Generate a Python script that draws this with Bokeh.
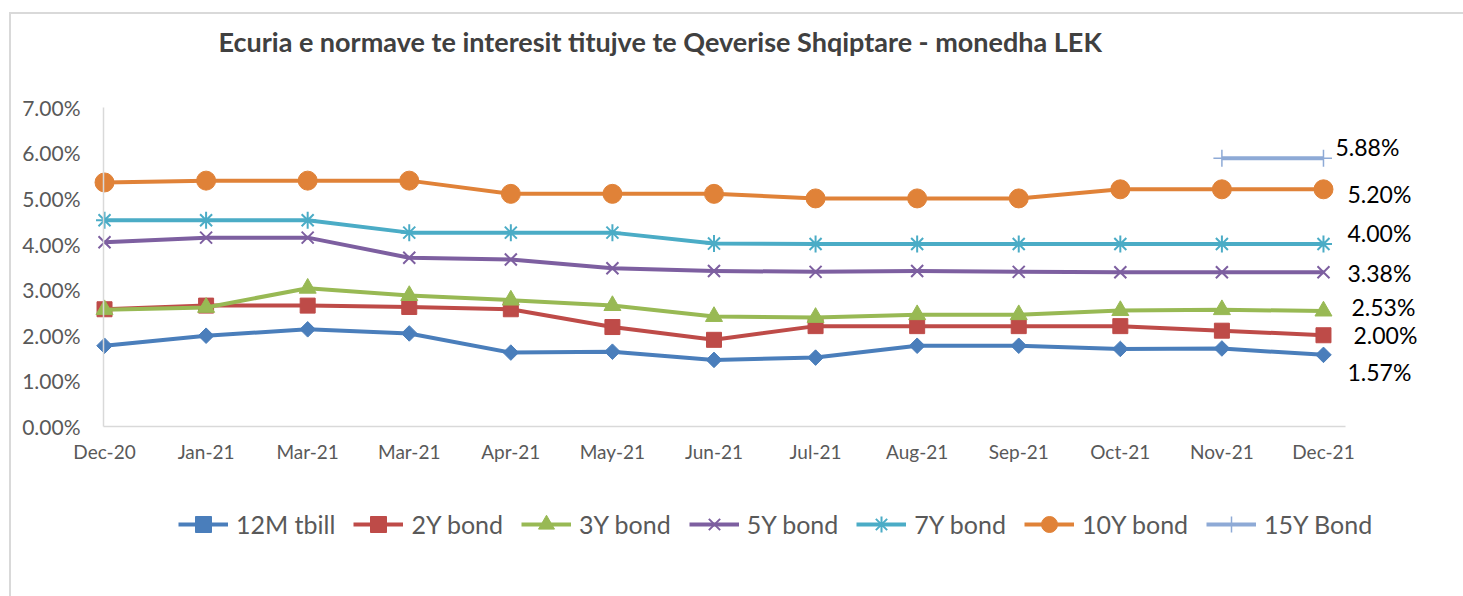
import numpy as np
from bokeh.plotting import figure
from bokeh.core.properties import value
from bokeh.models import (Range1d, FixedTicker, Legend, LegendItem,
                          LabelSet, ColumnDataSource, Title)
from bokeh.embed import file_html
from bokeh.resources import INLINE

nan = float("nan")

# ---- data ----
months = ["Dec-20", "Jan-21", "Mar-21", "Mar-21", "Apr-21", "May-21", "Jun-21",
          "Jul-21", "Aug-21", "Sep-21", "Oct-21", "Nov-21", "Dec-21"]
tbill_12m = [1.77, 1.99, 2.13, 2.04, 1.62, 1.64, 1.46, 1.51, 1.77, 1.77, 1.70, 1.71, 1.57]
bond_2y = [2.57, 2.65, 2.65, 2.62, 2.57, 2.18, 1.90, 2.20, 2.20, 2.20, 2.20, 2.10, 2.00]
bond_3y = [2.56, 2.61, 3.03, 2.87, 2.77, 2.65, 2.41, 2.39, 2.45, 2.45, 2.54, 2.56, 2.53]
bond_5y = [4.04, 4.14, 4.14, 3.70, 3.66, 3.47, 3.41, 3.39, 3.41, 3.39, 3.38, 3.38, 3.38]
bond_7y = [4.52, 4.52, 4.52, 4.25, 4.25, 4.25, 4.01, 4.00, 4.00, 4.00, 4.00, 4.00, 4.00]
bond_10y = [5.35, 5.39, 5.39, 5.39, 5.10, 5.10, 5.10, 5.00, 5.00, 5.00, 5.20, 5.20, 5.20]
bond_15y = [nan, nan, nan, nan, nan, nan, nan, nan, nan, nan, nan, 5.88, 5.88]
series_names = ["12M tbill", "2Y bond", "3Y bond", "5Y bond", "7Y bond", "10Y bond", "15Y Bond"]
y_ticks = [0, 1, 2, 3, 4, 5, 6, 7]
title_text = "Ecuria e normave te interesit titujve te Qeverise Shqiptare - monedha LEK"

# ---- styles ----
FONT = "Lato"
colors = ["#4a7ebb", "#be4b48", "#98b954", "#7d5fa0", "#4bacc6", "#e08238", "#8eaad6"]
markers = [("square", 11, np.pi / 4, 1), ("square", 15, 0, 1), ("triangle", 17, 0, 1),
           ("x", 17, 0, 2), ("asterisk", 17, 0, 2), ("circle", 19, 0, 1), ("cross", 17, 0, 1.5)]
# label offsets (px) for end-of-line data labels
label_dx = [24, 30, 28, 24, 24, 24, 12]
label_dy = [-17, 0, 4, -1, 11, -5, 11]

x = list(range(len(months)))
all_series = [tbill_12m, bond_2y, bond_3y, bond_5y, bond_7y, bond_10y, bond_15y]

X0 = -0.01          # where the value axis sits
p = figure(width=1454, height=584, output_backend="svg", toolbar_location=None,
           x_range=Range1d(-0.896, 13.152), y_range=Range1d(-3.070, 7.980),
           min_border_left=4, min_border_right=23, min_border_top=50, min_border_bottom=30)
p.margin = (12, 0, 0, 9)
p.border_fill_color = None
p.background_fill_color = None
p.styles = {"box-shadow": "inset 2px 2px 0 0 #d9d9d9"}
p.outline_line_color = None
p.xgrid.visible = False
p.ygrid.visible = False

title = Title(text=title_text, align="left", offset=205,
              text_font=FONT, text_font_size="27px", text_font_style="bold",
              text_color="#404040")
p.add_layout(title, "above")

for ax in (p.xaxis[0], p.yaxis[0]):
    ax.axis_line_color = "#d9d9d9"
    ax.axis_line_width = 1.5
    ax.major_tick_line_color = None
    ax.minor_tick_line_color = None
    ax.major_tick_in = 0
    ax.major_tick_out = 0
    ax.major_label_text_font = FONT
    ax.major_label_text_color = "#595959"

p.xaxis.ticker = FixedTicker(ticks=x)
p.xaxis.bounds = (X0, 12.217)
p.xaxis.fixed_location = 0
p.xaxis.major_label_overrides = {i: m for i, m in enumerate(months)}
p.xaxis.major_label_text_font_size = "19px"
p.xaxis.major_label_standoff = 14

p.yaxis.ticker = FixedTicker(ticks=y_ticks)
p.yaxis.bounds = (0, 7)
p.yaxis.fixed_location = X0
p.yaxis.major_label_overrides = {t: "" for t in y_ticks}
p.yaxis.major_label_standoff = 0

# value-axis tick labels
ytl_src = ColumnDataSource(dict(x=[X0] * len(y_ticks), y=y_ticks,
                                text=["%.2f%%" % t for t in y_ticks]))
p.add_layout(LabelSet(x="x", y="y", text="text", source=ytl_src, x_offset=-23,
                      text_font=value(FONT), text_font_size="21px", text_color="#595959",
                      text_align="right", text_baseline="middle"))

items = []
for name, vals, col, (mk, sz, ang, lw) in zip(series_names, all_series, colors, markers):
    src = ColumnDataSource(dict(x=x, y=vals))
    lr = p.line("x", "y", source=src, line_color=col, line_width=4, line_join="round")
    sr = p.scatter("x", "y", source=src, marker=mk, size=sz, angle=ang,
                   fill_color=col, line_color=col, line_width=lw)
    items.append(LegendItem(label=name, renderers=[lr, sr]))

last_vals = [s[-1] for s in all_series]
lab_src = ColumnDataSource(dict(x=[x[-1]] * len(last_vals), y=last_vals,
                                text=["%.2f%%" % v for v in last_vals],
                                dx=label_dx, dy=label_dy))
labels = LabelSet(x="x", y="y", text="text", x_offset="dx", y_offset="dy", source=lab_src,
                  text_font=value(FONT), text_font_size="23px", text_color="#000000",
                  text_align="left", text_baseline="middle")
p.add_layout(labels)

legend = Legend(items=items, orientation="horizontal", location=(165, 22),
                glyph_width=50, glyph_height=40, label_standoff=8, spacing=18,
                padding=10, label_text_font=FONT, label_text_font_size="25px",
                label_text_color="#595959", border_line_color=None,
                background_fill_alpha=0)
p.add_layout(legend)

open("out.html", "w").write(file_html(p, INLINE))
